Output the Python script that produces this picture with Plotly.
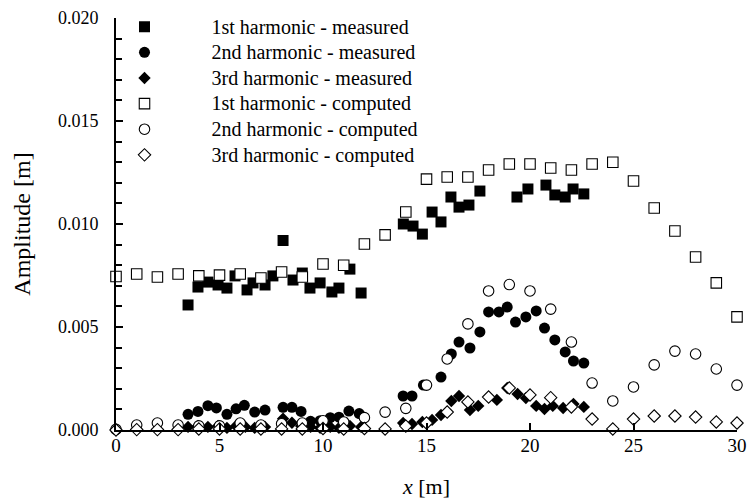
import plotly.graph_objects as go

# ---- data (values in metres) ----
x1m = [3.48, 3.96, 4.44, 4.93, 5.36, 5.75, 6.33, 6.62, 7.2, 7.58, 8.07, 8.55, 9.0, 9.37, 9.86,
       10.43, 10.77, 11.3, 11.84, 13.88, 14.35, 14.8, 15.27, 15.7, 16.18, 16.57, 17.05, 17.58,
       19.37, 19.9, 20.77, 21.2, 21.7, 22.08, 22.6]
y1m = [6.07, 6.94, 7.18, 7.04, 6.89, 7.48, 6.80, 7.14, 7.04, 7.48, 9.2, 7.28, 7.62, 6.89, 7.14,
       6.70, 6.89, 7.81, 6.65, 10.0, 9.90, 9.51, 10.58, 10.1, 11.31, 10.82, 10.92, 11.6,
       11.31, 11.7, 11.89, 11.41, 11.31, 11.7, 11.46]

x2m = [3.48, 3.96, 4.44, 4.85, 5.36, 5.8, 6.2, 6.7, 7.2, 8.07, 8.5, 8.94, 9.4, 9.86, 10.35,
       10.77, 11.25, 11.75, 13.87, 14.3, 14.85, 15.7, 16.2, 16.57, 17.1, 17.58, 18.0, 18.5,
       18.9, 19.3, 19.8, 20.3, 20.7, 21.2, 21.7, 22.1, 22.6]
y2m = [0.76, 0.9, 1.18, 1.07, 0.76, 1.03, 1.2, 0.87, 0.97, 1.1, 1.1, 0.9, 0.42, 0.45, 0.6,
       0.62, 0.92, 0.8, 1.65, 1.65, 2.18, 2.57, 3.69, 4.27, 3.98, 4.76, 5.73, 5.73,
       5.97, 5.24, 5.49, 5.78, 4.95, 4.37, 3.79, 3.35, 3.25]

x3m = [3.48, 3.96, 4.44, 4.93, 5.36, 5.8, 6.25, 6.7, 7.2, 8.07, 8.5, 8.94, 9.4, 9.86, 10.35,
       10.77, 11.3, 11.84, 13.87, 14.3, 14.8, 15.27, 15.7, 16.2, 16.57, 17.1, 17.5, 18.4,
       18.9, 19.4, 19.8, 20.3, 20.7, 21.1, 21.6, 22.1, 22.6]
y3m = [0.15, 0.2, 0.15, 0.2, 0.1, 0.2, 0.15, 0.1, 0.15, 0.55, 0.35, 0.2, 0.15, 0.1, 0.15,
       0.1, 0.2, 0.15, 0.34, 0.29, 0.39, 0.49, 0.73, 1.41, 1.65, 0.97, 1.17, 1.46,
       2.04, 1.75, 1.55, 1.17, 1.02, 1.17, 1.07, 1.26, 1.12]

xc = list(range(0, 31))
y1c = [7.45, 7.57, 7.43, 7.57, 7.48, 7.52, 7.57, 7.38, 7.67, 7.43, 8.06, 8.0, 9.03, 9.47, 10.58,
       12.18, 12.28, 12.28, 12.62, 12.91, 12.91, 12.72, 12.62, 12.91, 13.0, 12.09, 10.78, 9.66,
       8.40, 7.14, 5.49]
y2c = [0.03, 0.24, 0.34, 0.24, 0.2, 0.2, 0.34, 0.24, 0.3, 0.34, 0.45, 0.39, 0.6, 0.87, 1.05,
       2.18, 3.45, 5.15, 6.75, 7.06, 6.75, 5.87, 4.27, 2.28, 1.41, 2.09, 3.16, 3.83,
       3.69, 2.96, 2.18]
y3c = [0.0, 0.02, 0.02, 0.02, 0.05, 0.05, 0.05, 0.05, 0.05, 0.05, 0.07, 0.05, 0.07, 0.05, 0.19,
       0.34, 0.87, 1.36, 1.6, 2.04, 1.7, 1.57, 1.12, 0.53, 0.05, 0.53, 0.68, 0.68,
       0.63, 0.39, 0.34]

names = ["1st harmonic - measured", "2nd harmonic - measured", "3rd harmonic - measured",
         "1st harmonic - computed", "2nd harmonic - computed", "3rd harmonic - computed"]

x_ticks = [0, 5, 10, 15, 20, 25, 30]
y_ticks = [0.0, 0.005, 0.010, 0.015, 0.020]
y_tick_labels = ["0.000", "0.005", "0.010", "0.015", "0.020"]

FONT = "Liberation Serif"
scale = 1e-3

series = [
    (x1m, y1m, "square", 11, True),
    (x2m, y2m, "circle", 11, True),
    (x3m, y3m, "diamond", 9.5, True),
    (xc, y1c, "square", 10.5, False),
    (xc, y2c, "circle", 10.5, False),
    (xc, y3c, "diamond", 9.5, False),
]

fig = go.Figure()
for (xs, ys, sym, sz, filled), nm in zip(series, names):
    fig.add_trace(go.Scatter(
        x=xs, y=[v * scale for v in ys], mode="markers",
        name='<span style="font-size:20px">' + nm + '</span>', cliponaxis=False,
        marker=dict(symbol=sym, size=sz,
                    color="black" if filled else "white",
                    line=dict(color="black", width=0 if filled else 1.1)),
    ))

fig.update_layout(
    width=751, height=503,
    margin=dict(l=116, r=14, t=18, b=73, autoexpand=False),
    paper_bgcolor="white", plot_bgcolor="white",
    font=dict(family=FONT, size=18, color="black"),
    showlegend=True,
    legend=dict(x=-0.062, y=1.022, xanchor="left", yanchor="top",
                bgcolor="rgba(0,0,0,0)", font=dict(size=17.4, family=FONT),
                itemwidth=124, tracegroupgap=0),
)
fig.update_xaxes(
    range=[0, 30], showline=True, linecolor="black", linewidth=2, mirror=False,
    showgrid=False, zeroline=False, ticks="inside", ticklen=7, tickwidth=1.5,
    tickcolor="black", tickmode="array", tickvals=x_ticks, tickfont=dict(size=19, family=FONT),
    automargin=False, ticklabelstandoff=-3,
    title=dict(text="<i>x</i> [m]", font=dict(size=22, family=FONT), standoff=24),
)
fig.update_yaxes(
    range=[0, 0.02], showline=True, linecolor="black", linewidth=2, mirror=False,
    showgrid=False, zeroline=False, ticks="inside", ticklen=7, tickwidth=1.5,
    tickcolor="black", tickmode="array", tickvals=y_ticks, ticktext=y_tick_labels,
    tickfont=dict(size=18, family=FONT),
    automargin=False, ticklabelstandoff=12,
    minor=dict(ticks="inside", ticklen=6, tickwidth=1.5, tickcolor="black", dtick=0.001, showgrid=False),
    title=dict(text="Amplitude [m]", font=dict(size=24, family=FONT), standoff=21),
)

fig.write_html("out.html", config={"displayModeBar": False},
               post_script="document.body.style.margin='0';")
